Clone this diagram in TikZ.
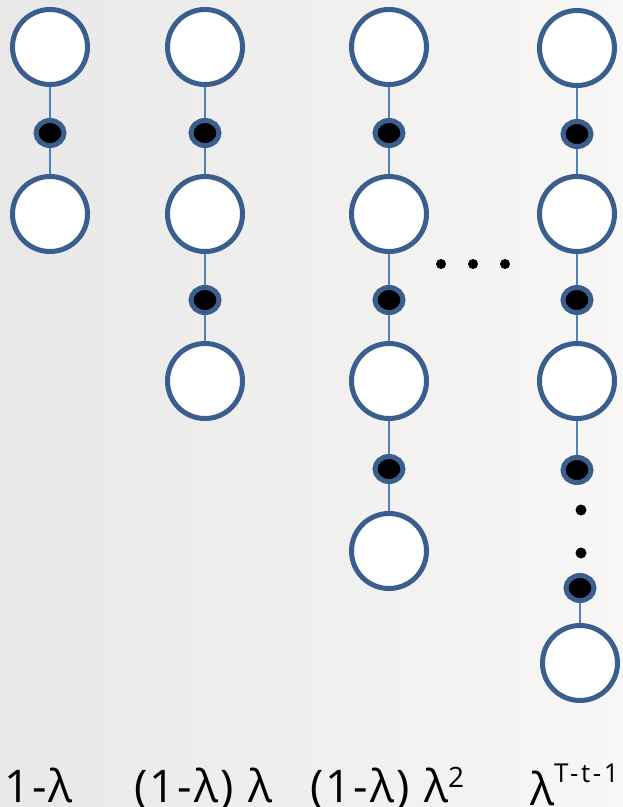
\documentclass[tikz,border=0pt]{standalone}
\usepackage{fontspec}
\setmainfont{Open Sans}
\usetikzlibrary{shapes.geometric}
\definecolor{ringblue}{RGB}{58,95,143}
\definecolor{lineblue}{RGB}{79,129,189}
\definecolor{bgleft}{RGB}{232,232,232}
\definecolor{bgright}{RGB}{248,247,245}
\tikzset{
  unit/.style={circle, draw=ringblue, line width=5pt, fill=white, minimum size=75pt, inner sep=0pt},
  hid/.style={ellipse, draw=ringblue, line width=5pt, fill=black, minimum width=28pt, minimum height=25pt, inner sep=0pt},
  conn/.style={draw=lineblue, line width=1.6pt},
  smalldot/.style={circle, fill=black, minimum size=11pt, inner sep=0pt},
  tinydot/.style={circle, fill=black, minimum size=10pt, inner sep=0pt},
  lab/.style={anchor=base west, inner sep=0pt, font=\fontsize{45}{50}\selectfont\addfontfeature{LetterSpace=5}}
}
\begin{document}
\begin{tikzpicture}[x=1pt,y=-1pt]
\shade[left color=bgleft, right color=bgright] (0,0) rectangle (623,807);
\useasboundingbox (0,0) rectangle (623,807);
% column 1
\node[unit] (a1) at (50,47) {};
\node[hid] (ad1) at (50,133) {};
\node[unit] (a2) at (50,214) {};
\draw[conn] (a1) -- (ad1) (ad1) -- (a2);
% column 2
\node[unit] (b1) at (205,47) {};
\node[hid] (bd1) at (205,133) {};
\node[unit] (b2) at (205,214) {};
\node[hid] (bd2) at (205,300) {};
\node[unit] (b3) at (205,381) {};
\draw[conn] (b1) -- (bd1) (bd1) -- (b2) (b2) -- (bd2) (bd2) -- (b3);
% column 3
\node[unit] (c1) at (389,47) {};
\node[hid] (cd1) at (389,133) {};
\node[unit] (c2) at (389,214) {};
\node[hid] (cd2) at (389,300) {};
\node[unit] (c3) at (389,381) {};
\node[hid] (cd3) at (389,469) {};
\node[unit] (c4) at (389,551) {};
\draw[conn] (c1) -- (cd1) (cd1) -- (c2) (c2) -- (cd2) (cd2) -- (c3) (c3) -- (cd3) (cd3) -- (c4);
% column 4
\node[unit] (e1) at (577,48) {};
\node[hid] (ed1) at (577,134) {};
\node[unit] (e2) at (577,214) {};
\node[hid] (ed2) at (577,300) {};
\node[unit] (e3) at (577,381) {};
\node[hid] (ed3) at (577,470) {};
\node[smalldot] (s1) at (581,510) {};
\node[smalldot] (s2) at (581,553) {};
\node[hid] (ed4) at (580,588) {};
\node[unit] (e4) at (580,663) {};
\draw[conn] (e1) -- (ed1) (ed1) -- (e2) (e2) -- (ed2) (ed2) -- (e3) (e3) -- (ed3) (ed4) -- (e4);
% ellipsis
\node[tinydot] (h1) at (441,264) {};
\node[tinydot] (h2) at (473,264) {};
\node[tinydot] (h3) at (505,264) {};
% labels
\node[lab] (l1) at (4,802) {1-λ};
\node[lab] (l2) at (134,802) {(1-λ) λ};
\node[lab] (l3) at (310,802) {(1-λ) λ\raisebox{15pt}{\fontsize{28}{30}\selectfont 2}};
\node[lab] (l4) at (530,805) {λ\raisebox{23pt}{\fontsize{26}{28}\selectfont\addfontfeature{LetterSpace=10}T-t-1}};
\end{tikzpicture}
\end{document}
